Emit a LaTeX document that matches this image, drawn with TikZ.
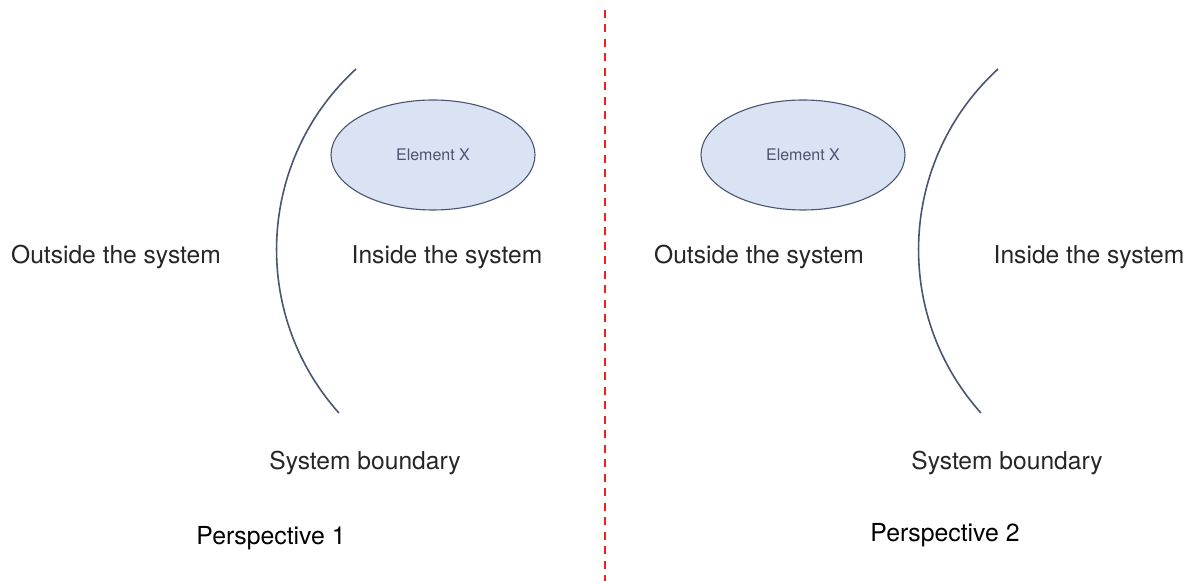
\documentclass[tikz,border=0pt]{standalone}
\usepackage{fontspec}
\setmainfont{TeX Gyre Heros}
\usetikzlibrary{shapes.geometric}
\definecolor{slate}{HTML}{4A5570}
\definecolor{elemfill}{HTML}{DAE3F3}
\definecolor{divider}{HTML}{F02020}
\definecolor{labeltext}{HTML}{262626}
\begin{document}
\begin{tikzpicture}[x=1pt,y=1pt,
  label/.style={font=\fontsize{24.6}{28}\selectfont, text=labeltext, inner sep=0pt},
  persp/.style={font=\fontsize{24.8}{28}\selectfont, text=black, inner sep=0pt},
  element/.style={ellipse, draw=slate, fill=elemfill, line width=1.1pt,
    minimum width=204pt, minimum height=110pt, inner sep=0pt,
    font=\fontsize{16}{19}\selectfont, text=slate},
  boundary/.style={draw=slate, line width=1.6pt},
  divide/.style={draw=divider, line width=2pt, dash pattern=on 8pt off 6.5pt}]
\useasboundingbox (0,0) rectangle (1195,581);

% centre divider
\coordinate (divtop) at (605,571);
\coordinate (divbot) at (605,0);
\draw[divide] (divtop) -- (divbot);

% perspective 1
\draw[boundary] (356,512) arc[start angle=132.5, end angle=221.8, radius=245];
\node[element] (elemA) at (433,426) {Element X};
\node[label] (outA) at (116,324) {Outside the system};
\node[label] (inA) at (447,324) {Inside the system};
\node[label] (bndA) at (365,118) {System boundary};
\node[persp] (perA) at (271,43) {Perspective 1};

% perspective 2
\draw[boundary] (998,512) arc[start angle=132.5, end angle=221.8, radius=245];
\node[element] (elemB) at (803,426) {Element X};
\node[label] (outB) at (759,324) {Outside the system};
\node[label] (inB) at (1089,324) {Inside the system};
\node[label] (bndB) at (1007,118) {System boundary};
\node[persp] (perB) at (945,46) {Perspective 2};
\end{tikzpicture}
\end{document}
